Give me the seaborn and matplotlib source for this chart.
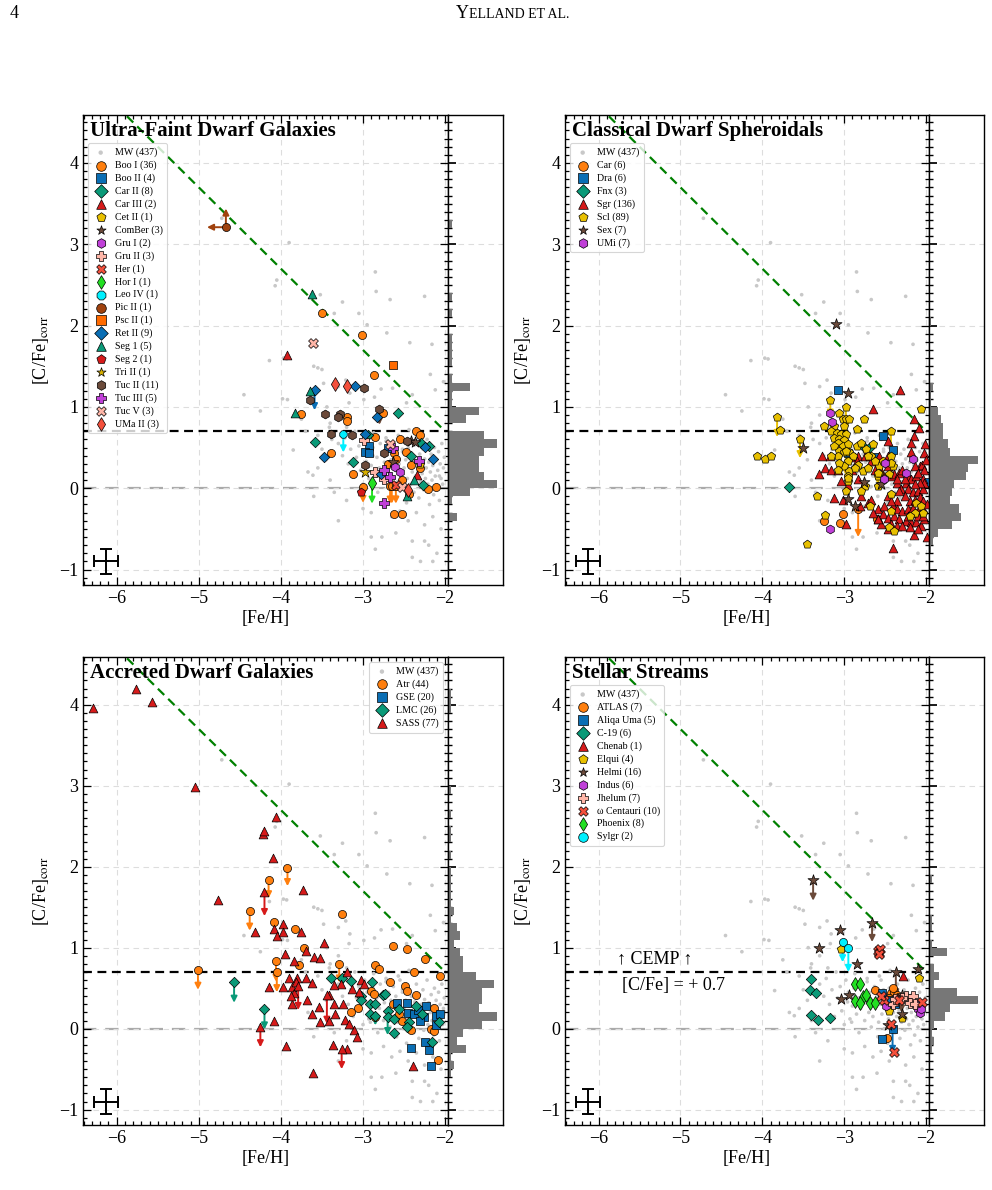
import numpy as np
import matplotlib
matplotlib.use("Agg")
import matplotlib.pyplot as plt
import seaborn as sns
from matplotlib.ticker import MultipleLocator

sns.set_theme(style="ticks")
plt.rcParams["font.family"] = ["Liberation Serif", "DejaVu Serif"]
plt.rcParams["mathtext.fontset"] = "stix"
for k in ["text.color", "axes.labelcolor", "xtick.color", "ytick.color", "axes.edgecolor"]:
    plt.rcParams[k] = "black"

# ---------------- reference lines / constants ----------------
CEMP_LEVEL = 0.7
SOLAR_LEVEL = 0.0
diag_feh = [-6.5, -2.0]            # green dashed boundary ([C/Fe] = -[Fe/H] - 1.3)
diag_cfe = [5.2, 0.7]
err_feh, err_cfe = [-6.13], [-0.90]
err_dfeh, err_dcfe = 0.15, 0.15

# ---------------- Milky Way comparison sample ----------------
mw_feh = [-4.72, -3.90, -4.05, -4.07, -3.52, -3.25, -2.85, -2.84, -2.25, -2.67, -3.35, -3.05, -2.43, -2.16,
          -2.71, -2.95, -4.14, -3.97, -3.93, -3.60, -3.55, -3.50, -3.21, -3.48, -3.30, -3.16, -2.78, -2.64,
          -2.40, -2.18, -2.02, -2.12, -3.44, -3.17, -2.99, -2.86, -2.47, -3.98, -3.92, -4.25, -3.85, -3.67,
          -3.61, -4.45, -3.75, -3.70, -3.55, -3.40, -3.30, -3.20, -3.60, -3.30, -2.90, -2.40, -2.25, -2.15,
          -3.30, -3.25, -3.22, -3.18, -3.15, -3.12, -3.10, -3.08, -3.05, -3.03, -3.00, -2.98, -2.96, -2.95,
          -2.93, -2.90, -2.88, -2.87, -2.85, -2.83, -2.82, -2.80, -2.79, -2.77, -2.75, -2.74, -2.72, -2.70,
          -2.69, -2.67, -2.66, -2.65, -2.63, -2.62, -2.60, -2.59, -2.58, -2.56, -2.55, -2.54, -2.52, -2.51,
          -2.50, -2.48, -2.47, -2.46, -2.45, -2.43, -2.42, -2.41, -2.40, -2.38, -2.37, -2.36, -2.35, -2.33,
          -2.32, -2.31, -2.30, -2.29, -2.28, -2.27, -2.26, -2.25, -2.24, -2.23, -2.22, -2.21, -2.20, -2.19,
          -2.18, -2.17, -2.16, -2.15, -2.14, -2.13, -2.12, -2.11, -2.10, -2.09, -2.08, -2.07, -2.06, -2.05,
          -2.04, -2.03, -2.02, -2.01, -3.45, -3.40, -3.38, -3.50, -3.55, -3.35, -3.20, -3.00, -2.90, -2.75,
          -2.65, -2.55, -2.45, -2.35, -2.25, -2.15, -2.05, -2.60, -2.40, -2.20, -2.85, -2.30, -2.10, -2.07,
          -2.88, -3.41, -2.72, -2.52, -2.33, -2.91, -2.57, -2.44, -2.77]
mw_cfe = [3.32, 3.02, 2.56, 2.49, 2.38, 2.29, 2.66, 2.42, 2.36, 2.32, 2.15, 2.15, 1.79, 1.77,
          1.91, 2.01, 1.57, 1.60, 1.59, 1.50, 1.48, 1.46, 1.33, 1.29, 1.25, 1.17, 1.22, 1.23,
          1.15, 1.40, 1.31, 1.21, 1.00, 1.05, 1.09, 1.12, 1.05, 1.10, 1.09, 0.95, 0.47, 0.20,
          0.16, 1.15, 0.85, 0.70, 0.65, 0.80, 0.90, 0.75, -0.10, -0.40, -0.60, -0.85, -0.65, -0.90,
          0.55, 0.40, 0.62, 0.30, 0.48, 0.15, 0.70, 0.38, 0.52, 0.22, 0.05, 0.60, 0.33, 0.45,
          0.12, 0.28, 0.50, 0.68, 0.18, 0.38, -0.05, 0.25, 0.55, 0.42, 0.10, 0.32, 0.62, 0.20,
          0.45, 0.02, 0.35, 0.15, 0.52, 0.27, 0.40, -0.10, 0.08, 0.30, 0.60, 0.18, 0.45, 0.00,
          0.25, 0.35, -0.18, 0.12, 0.50, 0.28, 0.05, 0.40, 0.20, -0.05, 0.33, 0.15, 0.55, 0.25,
          -0.12, 0.42, 0.08, 0.30, 0.18, 0.48, -0.02, 0.36, 0.12, 0.25, 0.60, 0.05, 0.32, -0.20,
          0.20, 0.42, 0.10, 0.28, -0.08, 0.50, 0.15, 0.35, 0.02, 0.22, 0.45, -0.15, 0.30, 0.12,
          0.55, 0.05, 0.25, 0.38, 0.35, 0.10, 0.60, 0.48, 0.25, -0.05, -0.15, -0.25, -0.30, -0.22,
          -0.35, -0.28, -0.40, -0.30, -0.45, -0.35, -0.50, -0.55, -0.65, -0.70, -0.75, -0.90, -0.80, 0.15,
          0.40, 0.75, 0.58, 0.48, 0.22, 0.08, 0.65, 0.72, -0.60]
mw_label = "MW (437)"

# ---------------- Ultra-faint dwarf galaxies ----------------
booi_feh = [-3.50, -3.01, -2.87, -3.76, -3.20, -3.19, -2.76, -2.86, -3.39, -3.12, -2.62, -2.60, -2.35, -2.31, -2.48,
            -2.42, -2.21, -2.11, -2.44, -3.00, -2.67, -2.65, -2.60, -2.62, -2.53, -2.55, -2.70, -2.30, -2.52]
booi_cfe = [2.16, 1.88, 1.39, 0.91, 0.88, 0.83, 0.93, 0.63, 0.43, 0.18, 0.43, 0.36, 0.70, 0.66, 0.45,
            0.29, -0.01, 0.02, -0.07, 0.02, 0.03, 0.03, 0.03, -0.32, -0.32, 0.60, 0.30, 0.25, 0.10]
booi_lim = [0] * 19 + [0.2, 0.22, 0.22, 0.22] + [0] * 6
boo2_feh, boo2_cfe = [-2.93, -2.98, -2.93, -2.70], [0.52, 0.45, 0.43, 0.49]
car2_feh = [-2.57, -2.94, -3.58, -3.12, -2.29, -2.41, -2.27, -2.20]
car2_cfe = [0.92, 0.66, 0.57, 0.32, 0.56, 0.40, 0.04, 0.52]
car3_feh, car3_cfe = [-3.92, -2.34], [1.64, 0.16]
cet2_feh, cet2_cfe = [-2.30], [0.30]
comber_feh, comber_cfe = [-2.42, -2.63, -2.37], [0.58, 0.32, 0.57]
gru1_feh, gru1_cfe = [-2.61, -2.55], [0.26, 0.20]
gru2_feh, gru2_cfe = [-2.99, -2.75, -2.85], [0.59, 0.11, 0.20]
her_feh, her_cfe = [-2.60], [0.04]
hor1_feh, hor1_cfe, hor1_lim = [-2.89], [0.06], [0.25]
leo4_feh, leo4_cfe, leo4_lim = [-3.24], [0.67], [0.23]
pic2_feh, pic2_cfe = [-4.67], [3.21]
pic2_feh_lim, pic2_cfe_lim = [0.23], [0.23]   # left (upper limit in Fe) and up (lower limit in C)
psc2_feh, psc2_cfe = [-2.64], [1.51]
ret2_feh = [-3.10, -3.59, -2.83, -2.98, -3.47, -2.24, -2.15, -2.78]
ret2_cfe = [1.26, 1.21, 0.88, 0.67, 0.38, 0.51, 0.36, 0.17]
ret2_lim = [0, 0.25, 0, 0, 0, 0, 0, 0]
seg1_feh, seg1_cfe = [-3.62, -3.65, -3.83, -2.38, -2.46], [2.39, 1.20, 0.92, 0.10, -0.09]
seg2_feh, seg2_cfe = [-3.02], [-0.05]
tri2_feh, tri2_cfe = [-2.98], [0.20]
tuc2_feh = [-2.99, -3.64, -3.46, -3.28, -3.31, -2.80, -3.39, -3.13, -2.75, -2.98, -2.47]
tuc2_cfe = [1.23, 1.08, 0.91, 0.91, 0.87, 0.98, 0.67, 0.65, 0.43, 0.28, 0.58]
tuc2_lim = [0, 0, 0, 0, 0, 0.2, 0, 0, 0, 0, 0]
tuc3_feh, tuc3_cfe = [-2.63, -2.32, -2.75, -2.67, -2.75], [0.49, 0.33, 0.22, 0.14, -0.18]
tuc5_feh, tuc5_cfe = [-3.61, -2.67, -2.52], [1.78, 0.55, 0.02]
uma2_feh, uma2_cfe = [-3.34, -3.20, -2.45], [1.28, 1.26, -0.02]

# ---------------- Classical dwarf spheroidals ----------------
car_feh = [-3.01, -3.05, -2.83, -2.60, -2.18, -3.25]
car_cfe = [-0.32, -0.43, -0.25, -0.38, -0.28, -0.40]
car_lim = [0, 0, 0.35, 0, 0.25, 0]
dra_feh, dra_cfe = [-3.08, -2.53, -2.41, -2.95, -2.00, -2.62], [1.21, 0.64, 0.47, 0.43, 0.08, 0.38]
fnx_feh, fnx_cfe = [-3.67, -2.75, -2.70], [0.01, 0.49, 0.50]
sgr_feh = [-3.27, -3.17, -3.31, -3.23, -3.16, -3.13, -3.02, -2.98, -2.87, -2.83, -2.84, -2.75, -2.68, -2.57,
           -2.47, -2.59, -2.55, -2.47, -2.43, -2.39, -2.33, -2.29, -2.22, -2.18, -2.15, -2.09, -2.03, -2.19,
           -2.35, -2.31, -2.24, -2.18, -2.12, -2.08, -2.05, -2.02, -2.22, -2.16, -2.10, -2.04, -2.26, -2.20,
           -2.14, -2.08, -2.04, -2.35, -2.41, -2.35, -2.29, -2.22, -2.16, -2.10, -2.04, -2.59, -2.53, -2.47,
           -2.39, -2.33, -2.24, -2.18, -2.12, -2.06, -2.02, -2.59, -2.55, -2.43, -2.35, -2.20, -2.15, -2.41,
           -2.71, -2.67, -2.79, -2.83, -2.91, -3.04, -2.96, -3.08, -2.81, -2.65, -2.51, -2.47, -2.43, -2.33,
           -2.14, -2.10, -2.04, -2.02, -2.08, -2.14, -2.26, -2.36, -2.10, -2.16, -2.04, -2.22, -2.29, -2.10,
           -2.47, -2.59, -2.67, -2.62, -2.32, -2.65, -2.15, -2.47, -1.99, -1.99, -2.00, -2.01]
sgr_cfe = [0.40, 0.40, 0.18, 0.25, 0.23, -0.12, -0.14, -0.44, 0.38, 0.40, 0.33, 0.40, 0.40, 0.40,
           0.40, 0.23, 0.21, 0.27, 0.15, 0.18, 0.19, 0.23, 0.15, 0.44, 0.64, 0.74, 0.43, 0.56,
           0.07, -0.01, 0.07, 0.11, 0.15, 0.27, 0.29, 0.23, -0.01, -0.05, -0.03, -0.01, -0.09, -0.16,
           -0.14, -0.11, -0.16, -0.16, -0.22, -0.26, -0.28, -0.26, -0.30, -0.28, -0.26, -0.26, -0.32, -0.36,
           -0.34, -0.38, -0.40, -0.42, -0.42, -0.46, -0.38, -0.38, -0.44, -0.44, -0.46, -0.48, -0.58, -0.74,
           -0.18, -0.14, -0.09, 0.11, 0.23, 0.09, 0.04, 0.23, -0.22, -0.30, -0.22, -0.09, -0.16, -0.03,
           0.27, 0.19, 0.11, 0.07, 0.07, 0.05, 0.11, 0.11, -0.34, -0.24, -0.34, -0.34, -0.46, -0.50,
           -0.50, -0.38, 0.33, 0.23, 1.21, 0.97, 0.85, 0.58, -0.60, -0.20, 0.35, 0.55]
scl_feh = [-2.06, -3.78, -4.06, -3.97, -3.89, -3.46, -3.33, -3.24, -3.06, -3.02, -2.98, -2.94, -3.00, -3.12,
           -3.16, -3.25, -3.09, -3.04, -2.98, -3.12, -3.06, -3.00, -3.08, -3.02, -2.96, -3.12, -3.06, -3.00,
           -2.94, -3.08, -3.16, -2.85, -2.76, -2.85, -2.79, -2.73, -2.65, -2.89, -2.83, -2.77, -2.71, -2.96,
           -3.00, -2.94, -3.06, -3.08, -2.96, -2.96, -2.98, -2.87, -2.75, -2.57, -2.53, -2.43, -2.41, -2.45,
           -2.59, -2.51, -2.67, -2.63, -2.71, -2.79, -2.69, -2.43, -2.12, -2.06, -2.04, -2.14, -2.20, -2.43,
           -2.45, -2.39, -2.59, -2.57,
           -3.17, -2.98, -3.82, -3.54, -2.43, -2.98, -2.96, -2.59, -2.43]
scl_cfe = [0.97, 0.72, 0.40, 0.36, 0.40, -0.68, -0.09, -0.33, 0.93, 0.85, 0.85, 0.85, 0.77, 0.76,
           0.71, 0.76, 0.68, 0.67, 0.67, 0.62, 0.61, 0.59, 0.56, 0.52, 0.54, 0.52, 0.46, 0.44,
           0.44, 0.40, 0.40, 0.73, 0.85, 0.52, 0.56, 0.48, 0.54, 0.40, 0.29, 0.21, 0.25, 0.34,
           0.27, 0.21, 0.31, 0.23, 0.15, 0.09, -0.03, 0.25, 0.03, 0.27, 0.33, 0.40, 0.27, 0.17,
           0.03, 0.13, 0.40, 0.33, 0.40, -0.03, -0.22, -0.07, -0.18, -0.22, -0.30, -0.30, -0.34, -0.28,
           -0.48, -0.52, 0.15, 0.19,
           1.08, 1.00, 0.87, 0.61, 0.71, 0.46, 0.13, 0.19, 0.31]
scl_lim = [0] * 74 + [0.2, 0.28, 0.24, 0.24, 0.52, 0.3, 0.22, 0.14, 0.14]
sex_feh, sex_cfe = [-3.10, -2.95, -3.50, -2.95, -2.87, -2.76, -2.55], [2.02, 1.17, 0.49, -0.13, -0.22, 0.08, 0.05]
umi_feh = [-3.17, -3.15, -2.16, -2.50, -2.51, -2.24, -3.17]
umi_cfe = [0.92, 0.81, 0.36, 0.31, 0.11, 0.19, -0.50]

# ---------------- Accreted dwarf galaxies ----------------
atr_feh = [-5.01, -3.92, -4.15, -4.38, -4.09, -3.83, -3.72, -3.78, -4.06, -4.05, -3.25, -3.29, -2.64, -2.47,
           -2.25, -2.85, -2.80, -2.38, -2.06, -2.67, -2.90, -2.87, -2.49, -2.47, -2.35, -3.06, -3.15, -2.85,
           -2.64, -2.56, -2.53, -2.42, -2.17, -2.13, -2.13, -2.09]
atr_cfe = [0.73, 1.99, 1.84, 1.45, 1.32, 1.23, 1.00, 0.79, 0.83, 0.70, 1.41, 0.80, 1.02, 0.98,
           0.86, 0.78, 0.74, 0.70, 0.65, 0.58, 0.46, 0.43, 0.53, 0.46, 0.41, 0.25, 0.20, 0.14,
           0.31, 0.18, 0.10, -0.02, 0.00, -0.03, 0.26, -0.39]
atr_lim = [0.25, 0.23, 0.23, 0.24, 0, 0, 0, 0, 0.25, 0.25, 0, 0.23] + [0] * 24
gse_feh = [-2.58, -2.46, -2.45, -2.38, -2.33, -2.23, -2.26, -2.11, -2.06, -2.11, -2.24, -2.20, -2.42, -2.17, -2.30]
gse_cfe = [0.32, 0.32, 0.19, 0.18, 0.23, 0.28, 0.15, 0.16, 0.18, 0.05, -0.17, -0.26, -0.24, -0.46, 0.10]
lmc_feh = [-4.57, -4.20, -3.39, -3.25, -3.15, -2.89, -3.03, -3.02, -2.91, -2.85, -2.76, -2.73, -2.91, -2.85,
           -2.69, -2.70, -2.62, -2.56, -2.44, -2.47, -2.62, -2.36, -2.28, -2.16, -2.07]
lmc_cfe = [0.57, 0.24, 0.63, 0.63, 0.59, 0.57, 0.40, 0.35, 0.31, 0.30, 0.41, 0.43, 0.18, 0.16,
           0.22, 0.14, 0.12, 0.24, 0.08, 0.02, -0.05, 0.28, 0.18, -0.16, 0.08]
lmc_lim = [0.25, 0.25, 0, 0.1, 0, 0, 0, 0, 0, 0, 0, 0, 0, 0.12, 0, 0.22] + [0] * 9
sass_feh = [-6.29, -5.76, -5.57, -5.04, -4.06, -4.22, -4.20, -4.10, -4.77, -3.73, -4.20, -4.32, -4.09, -3.97,
            -4.05, -3.98, -3.75, -3.95, -3.84, -3.70, -3.60, -3.52, -3.48, -4.14, -4.09, -4.25, -3.94, -3.61,
            -3.90, -3.80, -3.69, -3.97, -3.87, -3.81, -3.84, -3.86, -3.88, -3.68, -3.62, -3.54, -3.42, -3.35,
            -3.24, -3.27, -3.35, -3.13, -3.02, -3.41, -3.52, -3.22, -3.11, -3.17, -3.07, -3.37, -3.19, -3.62,
            -3.34, -3.79, -3.44, -3.26, -3.20, -2.99, -3.05, -2.39]
sass_cfe = [3.96, 4.19, 4.04, 2.98, 2.61, 2.40, 2.44, 2.11, 1.59, 1.71, 1.69, 1.19, 1.23, 1.29,
            1.14, 1.19, 1.19, 0.92, 0.83, 0.96, 0.89, 0.87, 1.06, 0.51, 0.09, 0.02, -0.21, -0.55,
            0.63, 0.62, 0.63, 0.51, 0.52, 0.57, 0.44, 0.31, 0.40, 0.35, 0.56, 0.27, 0.41, 0.31,
            0.31, 0.55, 0.54, 0.49, 0.60, 0.10, 0.08, 0.11, -0.02, 0.06, -0.10, -0.20, -0.25, 0.18,
            0.18, 0.53, 0.41, -0.25, 0.70, 0.55, 0.45, -0.46]
sass_lim = [0] * 10 + [0.3] + [0] * 14 + [0.25] + [0] * 31 + [0.3, 0.35, 0.25] + [0] * 4

# ---------------- Stellar streams ----------------
atlas_feh, atlas_cfe = [-2.63, -2.43, -2.39, -2.48, -2.45, -2.35, -2.40], [0.48, 0.44, 0.45, -0.12, 0.38, 0.42, 0.50]
aliqa_feh, aliqa_cfe = [-2.54, -2.41, -2.54, -2.45, -2.38], [0.44, 0.00, -0.13, 0.35, 0.30]
aliqa_lim = [0, 0.3, 0, 0, 0]
c19_feh, c19_cfe = [-3.40, -3.42, -3.35, -3.41, -3.32, -3.17], [0.61, 0.48, 0.44, 0.17, 0.11, 0.13]
chenab_feh, chenab_cfe = [-2.28], [0.65]
elqui_feh, elqui_cfe = [-3.04, -2.09, -2.45, -2.29], [0.98, 0.63, 0.22, 0.13]
helmi_feh = [-3.38, -2.66, -3.05, -3.31, -2.85, -3.04, -2.94, -2.37, -2.30, -2.10, -2.30, -2.47, -2.20]
helmi_cfe = [1.83, 1.31, 1.22, 1.00, 0.80, 0.37, 0.42, 0.70, 0.42, 0.74, 0.18, 0.05, 0.35]
helmi_lim = [0.25, 0.24, 0, 0, 0, 0, 0, 0.3, 0.22, 0, 0, 0, 0]
indus_feh, indus_cfe = [-2.49, -2.35, -2.10, -2.07, -2.06, -2.12], [0.28, 0.37, 0.24, 0.19, 0.24, 0.30]
jhelum_feh, jhelum_cfe = [-2.41, -2.24, -2.16, -2.20, -2.14, -2.38, -2.30], [0.30, 0.40, 0.40, 0.32, 0.30, 0.36, 0.38]
omcen_feh = [-2.59, -2.57, -2.56, -2.58, -2.51, -2.05, -2.43, -2.39, -2.33, -2.55]
omcen_cfe = [0.96, 0.94, 0.98, 0.92, 0.35, 0.33, 0.06, -0.29, 0.35, 0.40]
phoenix_feh = [-2.87, -2.81, -2.77, -2.74, -2.87, -2.81, -2.68, -2.63]
phoenix_cfe = [0.55, 0.55, 0.39, 0.42, 0.34, 0.32, 0.32, 0.32]
sylgr_feh, sylgr_cfe, sylgr_lim = [-3.02, -2.95], [1.07, 1.00], [0.25, 0.3]

# ---------------- colours ----------------
ORANGE, BLUE, TEAL, RED = "#ff7f0e", "#0a6eb4", "#0a9a78", "#d61a1a"
GOLD, BROWN, PURPLE, PINK = "#e8c000", "#6b4a3a", "#c040d8", "#ffb6a8"
TOMATO, LIME, CYAN, SIENNA = "#f4503c", "#22e022", "#00f0ff", "#a0420e"


def G(name, n, marker, color, feh, cfe, lim=None, s=34):
    return dict(name=name, n=n, marker=marker, color=color, feh=feh, cfe=cfe, lim=lim, s=s)


ufd = [G("Boo I", 36, "o", ORANGE, booi_feh, booi_cfe, booi_lim),
       G("Boo II", 4, "s", BLUE, boo2_feh, boo2_cfe),
       G("Car II", 8, "D", TEAL, car2_feh, car2_cfe, s=28),
       G("Car III", 2, "^", RED, car3_feh, car3_cfe, s=40),
       G("Cet II", 1, "p", GOLD, cet2_feh, cet2_cfe, s=40),
       G("ComBer", 3, "*", BROWN, comber_feh, comber_cfe, s=70),
       G("Gru I", 2, "h", PURPLE, gru1_feh, gru1_cfe, s=40),
       G("Gru II", 3, "P", PINK, gru2_feh, gru2_cfe, s=50),
       G("Her", 1, "X", TOMATO, her_feh, her_cfe, s=50),
       G("Hor I", 1, "d", LIME, hor1_feh, hor1_cfe, hor1_lim, s=50),
       G("Leo IV", 1, "8", CYAN, leo4_feh, leo4_cfe, leo4_lim),
       G("Pic II", 1, "o", SIENNA, pic2_feh, pic2_cfe),
       G("Psc II", 1, "s", "#ff6a00", psc2_feh, psc2_cfe),
       G("Ret II", 9, "D", BLUE, ret2_feh, ret2_cfe, ret2_lim, s=28),
       G("Seg 1", 5, "^", TEAL, seg1_feh, seg1_cfe, s=40),
       G("Seg 2", 1, "p", RED, seg2_feh, seg2_cfe, s=40),
       G("Tri II", 1, "*", "#d8b000", tri2_feh, tri2_cfe, s=70),
       G("Tuc II", 11, "h", BROWN, tuc2_feh, tuc2_cfe, tuc2_lim, s=40),
       G("Tuc III", 5, "P", PURPLE, tuc3_feh, tuc3_cfe, s=50),
       G("Tuc V", 3, "X", PINK, tuc5_feh, tuc5_cfe, s=50),
       G("UMa II", 3, "d", TOMATO, uma2_feh, uma2_cfe, s=50)]

dsph = [G("Car", 6, "o", ORANGE, car_feh, car_cfe, car_lim),
        G("Dra", 6, "s", BLUE, dra_feh, dra_cfe),
        G("Fnx", 3, "D", TEAL, fnx_feh, fnx_cfe, s=28),
        G("Sgr", 136, "^", RED, sgr_feh, sgr_cfe, s=40),
        G("Scl", 89, "p", GOLD, scl_feh, scl_cfe, scl_lim, s=40),
        G("Sex", 7, "*", BROWN, sex_feh, sex_cfe, s=70),
        G("UMi", 7, "h", PURPLE, umi_feh, umi_cfe, s=40)]

accreted = [G("Atr", 44, "o", ORANGE, atr_feh, atr_cfe, atr_lim),
            G("GSE", 20, "s", BLUE, gse_feh, gse_cfe),
            G("LMC", 26, "D", TEAL, lmc_feh, lmc_cfe, lmc_lim, s=28),
            G("SASS", 77, "^", RED, sass_feh, sass_cfe, sass_lim, s=40)]

streams = [G("ATLAS", 7, "o", ORANGE, atlas_feh, atlas_cfe),
           G("Aliqa Uma", 5, "s", BLUE, aliqa_feh, aliqa_cfe, aliqa_lim),
           G("C-19", 6, "D", TEAL, c19_feh, c19_cfe, s=28),
           G("Chenab", 1, "^", RED, chenab_feh, chenab_cfe, s=40),
           G("Elqui", 4, "p", GOLD, elqui_feh, elqui_cfe, s=40),
           G("Helmi", 16, "*", BROWN, helmi_feh, helmi_cfe, helmi_lim, s=70),
           G("Indus", 6, "h", PURPLE, indus_feh, indus_cfe, s=40),
           G("Jhelum", 7, "P", PINK, jhelum_feh, jhelum_cfe, s=50),
           G("ω Centauri", 10, "X", TOMATO, omcen_feh, omcen_cfe, s=50),
           G("Phoenix", 8, "d", LIME, phoenix_feh, phoenix_cfe, s=50),
           G("Sylgr", 2, "o", CYAN, sylgr_feh, sylgr_cfe, sylgr_lim)]

XLIM = (-6.41, -1.965)
YLIM = (-1.19, 4.59)
hist_bins = np.arange(-1.2, 4.65, 0.1)

fig = plt.figure(figsize=(9.92, 11.9), dpi=100)


def arrow(ax, x0, y0, x1, y1, color):
    ax.annotate("", xy=(x1, y1), xytext=(x0, y0),
                arrowprops=dict(arrowstyle="-|>,head_width=0.15,head_length=0.3", color=color,
                                lw=1.4, shrinkA=0, shrinkB=0), zorder=2)


def style_axes(ax):
    ax.set_xlim(*XLIM)
    ax.set_ylim(*YLIM)
    ax.xaxis.set_major_locator(MultipleLocator(1))
    ax.xaxis.set_minor_locator(MultipleLocator(0.1))
    ax.yaxis.set_major_locator(MultipleLocator(1))
    ax.yaxis.set_minor_locator(MultipleLocator(0.1))
    ax.tick_params(which="both", direction="in", top=True, right=True, labelsize=13, width=0.9,
                   colors="black")
    ax.tick_params(which="major", length=6)
    ax.tick_params(which="minor", length=3)
    ax.grid(True, which="major", ls=(0, (5, 4)), color="#dddddd", lw=0.8)
    for sp in ax.spines.values():
        sp.set_linewidth(1.0)
        sp.set_color("black")


def panel(rect, hrect, groups, title, legend_right=False, cemp_text=False):
    ax = fig.add_axes(rect)
    hax = fig.add_axes(hrect, sharey=ax)
    style_axes(ax)
    ax.axhline(SOLAR_LEVEL, color="#aaaaaa", ls=(0, (6, 4)), lw=1.6, zorder=0.5)
    ax.axhline(CEMP_LEVEL, color="black", ls=(0, (4, 2.5)), lw=1.6, zorder=0.6)
    sns.lineplot(x=diag_feh, y=diag_cfe, ax=ax, color="green", lw=1.6, zorder=0.7)
    ax.lines[-1].set_linestyle((0, (4, 2.5)))
    sns.scatterplot(x=mw_feh, y=mw_cfe, ax=ax, color="#c8c8c8", s=7, edgecolor="none",
                    label=mw_label, zorder=1)
    all_cfe = []
    for g in groups:
        if g["lim"] is not None:
            for x, y, L in zip(g["feh"], g["cfe"], g["lim"]):
                if L > 0:
                    arrow(ax, x, y, x, y - L, g["color"])
        if g["name"] == "Pic II":
            for x, y, lx, ly in zip(g["feh"], g["cfe"], pic2_feh_lim, pic2_cfe_lim):
                arrow(ax, x, y, x - lx, y, g["color"])
                arrow(ax, x, y, x, y + ly, g["color"])
        sns.scatterplot(x=g["feh"], y=g["cfe"], ax=ax, marker=g["marker"], color=g["color"],
                        s=g["s"], edgecolor="black", linewidth=0.5,
                        label=f'{g["name"]} ({g["n"]})', zorder=3)
        all_cfe += list(g["cfe"])
    ax.errorbar(err_feh, err_cfe, xerr=err_dfeh, yerr=err_dcfe, fmt="none", ecolor="black",
                elinewidth=1.4, capsize=4, capthick=1.4, zorder=3)
    ax.text(0.02, 0.988, title, transform=ax.transAxes, ha="left", va="top", color="black",
            fontsize=15, fontweight="bold", zorder=6)
    ax.set_xlabel("[Fe/H]", fontsize=13, labelpad=2, color="black")
    ax.set_ylabel(r"[C/Fe]$_{\rm corr}$", fontsize=13, labelpad=6, color="black")
    kw = dict(fontsize=7.2, labelspacing=0.33, handletextpad=0.6, handlelength=1.6,
              borderpad=0.45, borderaxespad=0.3)
    if legend_right:
        leg = ax.legend(loc="upper right", bbox_to_anchor=(0.995, 0.995), **kw)
    else:
        leg = ax.legend(loc="upper left", bbox_to_anchor=(0.006, 0.946), **kw)
    leg.get_frame().set_edgecolor("#cccccc")
    leg.get_frame().set_linewidth(0.8)
    leg.set_zorder(7)
    for t in leg.get_texts():
        t.set_color("black")
    for h in leg.legend_handles:
        try:
            h.set_sizes([48])
        except Exception:
            pass
    leg.legend_handles[0].set_sizes([10])
    if cemp_text:
        ax.text(-5.32, 0.86, "↑ CEMP ↑", fontsize=13, ha="center", va="center", color="black")
        ax.text(-5.09, 0.53, "[C/Fe] = + 0.7", fontsize=13, ha="center", va="center", color="black")

    sns.histplot(y=all_cfe, bins=hist_bins, ax=hax, color="#777777", edgecolor="none", alpha=1.0)
    counts, _ = np.histogram(all_cfe, bins=hist_bins)
    hax.set_xlim(0, counts.max() * 1.12)
    hax.set_xlabel("")
    hax.set_ylabel("")
    hax.tick_params(axis="x", which="both", bottom=False, top=False, labelbottom=False)
    hax.tick_params(axis="y", which="both", direction="in", left=True, right=False, labelleft=False)
    hax.tick_params(axis="y", which="major", length=6)
    hax.tick_params(axis="y", which="minor", length=3)
    hax.grid(True, axis="y", which="major", ls=(0, (5, 4)), color="#dddddd", lw=0.8)
    hax.set_axisbelow(True)
    for sp in hax.spines.values():
        sp.set_color("black")
        sp.set_linewidth(1.0)
    return ax, hax


LX, LW = 83 / 992, 365 / 992
RX, RW = 565 / 992, 364 / 992
HW = 55 / 992
TY, TH = 1 - 585 / 1190, 470 / 1190
BY, BH = 1 - 1125 / 1190, 468 / 1190

panel([LX, TY, LW, TH], [LX + LW, TY, HW, TH], ufd, "Ultra-Faint Dwarf Galaxies")
panel([RX, TY, RW, TH], [RX + RW, TY, HW, TH], dsph, "Classical Dwarf Spheroidals")
panel([LX, BY, LW, BH], [LX + LW, BY, HW, BH], accreted, "Accreted Dwarf Galaxies", legend_right=True)
panel([RX, BY, RW, BH], [RX + RW, BY, HW, BH], streams, "Stellar Streams", cemp_text=True)

# page header
fig.text(10 / 992, 1 - 13 / 1190, "4", fontsize=13, ha="left", va="center", color="black")
fig.text(469 / 992, 1 - 13 / 1190, "Y", fontsize=13, ha="right", va="center", color="black")
fig.text(469 / 992, 1 - 14 / 1190, "ELLAND ET AL.", fontsize=10, ha="left", va="center", color="black")

fig.savefig("out.png", dpi=100)
